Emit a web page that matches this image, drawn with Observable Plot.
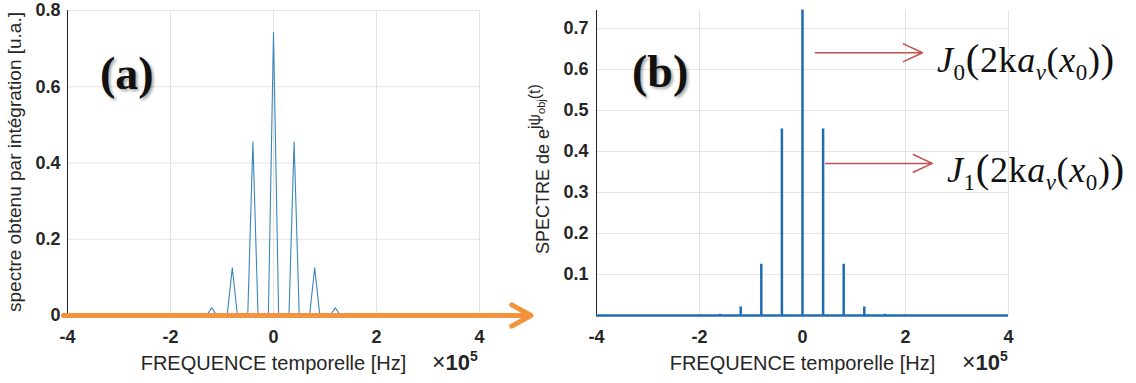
<!DOCTYPE html>
<html>
<head>
<meta charset="utf-8">
<script src="https://cdn.jsdelivr.net/npm/d3@7"></script>
<script src="https://cdn.jsdelivr.net/npm/@observablehq/plot@0.6"></script>
<style>
  html, body { margin: 0; padding: 0; background: #fff; }
  #wrap { position: relative; width: 1136px; height: 383px; overflow: hidden; background: #fff; font-family: "Liberation Sans", Arial, sans-serif; }
  .panel { position: absolute; top: 0; }
  .ov { position: absolute; white-space: nowrap; }
  .tag { font-family: "Liberation Serif", serif; font-weight: bold; font-size: 46px; color: #111; text-shadow: 2px 2px 3px rgba(0,0,0,0.35); line-height: 1; }
  .exp { font-size: 23px; color: #262626; line-height: 1; }
  .exp b { font-size: 22px; }
  .exp b sup { font-size: 14px; vertical-align: 9px; line-height: 0; }
  .math { font-family: "Liberation Serif", serif; font-size: 36px; color: #111; line-height: 1; letter-spacing: 0.6px; }
  .math i { font-style: italic; }
  .math sub { font-size: 23px; vertical-align: -8px; line-height: 0; }
  .math .big { font-size: 41px; }
  .ylab2 { font-size: 18px; color: #262626; transform-origin: 0 0; transform: rotate(-90deg); line-height: 1; }
  .ylab2 sup { font-size: 16px; vertical-align: 9px; line-height: 0; }
  .ylab2 sup sub { font-size: 11px; vertical-align: -5px; }
</style>
</head>
<body>
<div id="wrap">
  <div id="pa" class="panel" style="left:0"></div>
  <div id="pb" class="panel" style="left:500px"></div>
  <div class="ov tag" style="left:100px;top:51px">(a)</div>
  <div class="ov tag" style="left:632px;top:49px">(b)</div>
  <div class="ov exp" style="left:432px;top:351px">×<b>10<sup>5</sup></b></div>
  <div class="ov exp" style="left:962px;top:351px">×<b>10<sup>5</sup></b></div>
  <div class="ov math" style="left:937px;top:38px"><i>J</i><sub>0</sub><span class="big">(</span>2k<i>a</i><sub><i>v</i></sub>(<i>x</i><sub>0</sub>)<span class="big">)</span></div>
  <div class="ov math" style="left:947px;top:148px"><i>J</i><sub>1</sub><span class="big">(</span>2k<i>a</i><sub><i>v</i></sub>(<i>x</i><sub>0</sub>)<span class="big">)</span></div>
  <div class="ov ylab2" style="left:534px;top:254px">SPECTRE de e<sup>jψ<sub>obj</sub>(t)</sup></div>
</div>
<script>
// ---- data (frequency in units of 1e5 Hz) ----
const leftFreq = [-4, -1.7, -1.6, -1.5, -1.3, -1.2, -1.1, -0.9, -0.8, -0.7, -0.5, -0.4, -0.3, -0.1, 0, 0.1, 0.3, 0.4, 0.5, 0.7, 0.8, 0.9, 1.1, 1.2, 1.3, 1.5, 1.6, 1.7, 4];
const leftSpec = [0, 0, 0.002, 0, 0, 0.02, 0, 0, 0.125, 0, 0, 0.455, 0, 0, 0.742, 0, 0, 0.455, 0, 0, 0.125, 0, 0, 0.02, 0, 0, 0.002, 0, 0];
const rightFreq = [-2, -1.6, -1.2, -0.8, -0.4, 0, 0.4, 0.8, 1.2, 1.6, 2];
const rightSpec = [0.001, 0.003, 0.021, 0.125, 0.455, 0.745, 0.455, 0.125, 0.021, 0.003, 0.001];
const xTicks = [-4, -2, 0, 2, 4];
const yTicksLeft = [0, 0.2, 0.4, 0.6, 0.8];
const yTicksRight = [0.1, 0.2, 0.3, 0.4, 0.5, 0.6, 0.7];
const xLabel = "FREQUENCE temporelle [Hz]";
const yLabelLeft = "spectre obtenu par intégration [u.a.]";

const leftData = leftFreq.map((f, i) => ({f, v: leftSpec[i]}));
const rightData = rightFreq.map((f, i) => ({f, v: rightSpec[i]}));

const gridC = "#e3e3e3", axisC = "#262626";
const tickFont = {fontSize: 18, fontWeight: "bold", fill: axisC};

const left = Plot.plot({
  width: 540, height: 383,
  marginLeft: 67, marginRight: 61, marginTop: 10, marginBottom: 68,
  style: {fontFamily: "Liberation Sans, Arial, sans-serif", background: "transparent", overflow: "visible"},
  x: {domain: [-4, 4]},
  y: {domain: [0, 0.8]},
  marks: [
    Plot.gridX(xTicks, {stroke: gridC, strokeOpacity: 1}),
    Plot.gridY(yTicksLeft, {stroke: gridC, strokeOpacity: 1}),
    Plot.ruleX([-4], {stroke: axisC, strokeWidth: 1}),
    Plot.line(leftData, {x: "f", y: "v", stroke: "#3a87b8", strokeWidth: 1.1}),
    Plot.axisX(xTicks, {tickSize: 0, tickPadding: 15, label: null, ...tickFont, tickFormat: d => String(d)}),
    Plot.axisY(yTicksLeft, {tickSize: 0, tickPadding: 7, label: null, ...tickFont, tickFormat: d => d === 0 ? "0" : d3.format(".1f")(d)}),
    Plot.text([xLabel], {frameAnchor: "bottom", lineAnchor: "middle", dy: 48, fontSize: 20, fill: axisC}),
    Plot.text([yLabelLeft], {frameAnchor: "left", textAnchor: "middle", lineAnchor: "middle", rotate: -90, dx: -53, dy: -1, fontSize: 19, fill: axisC}),
    Plot.arrow([{x1: -4.08, x2: 5.0}], {x1: "x1", x2: "x2", y1: 0, y2: 0, stroke: "#f5923e", strokeWidth: 5, headLength: 6.6, headAngle: 58})
  ]
});
document.getElementById("pa").appendChild(left);

const right = Plot.plot({
  width: 636, height: 383,
  marginLeft: 96, marginRight: 128, marginTop: 10, marginBottom: 68,
  style: {fontFamily: "Liberation Sans, Arial, sans-serif", background: "transparent", overflow: "visible"},
  x: {domain: [-4, 4]},
  y: {domain: [0, 0.744]},
  marks: [
    Plot.gridX(xTicks, {stroke: gridC, strokeOpacity: 1}),
    Plot.gridY(yTicksRight, {stroke: gridC, strokeOpacity: 1}),
    Plot.ruleX([-4], {stroke: axisC, strokeWidth: 1}),
    Plot.ruleY([0], {x1: -4, x2: 4, stroke: "#1f6db0", strokeWidth: 2.5}),
    Plot.ruleX(rightData, {x: "f", y1: 0, y2: "v", stroke: "#1f6db0", strokeWidth: 2.5}),
    Plot.axisX(xTicks, {tickSize: 0, tickPadding: 15, label: null, ...tickFont, tickFormat: d => String(d)}),
    Plot.axisY(yTicksRight, {tickSize: 0, tickPadding: 8, label: null, ...tickFont, tickFormat: d3.format(".1f")}),
    Plot.text([xLabel], {frameAnchor: "bottom", lineAnchor: "middle", dy: 48, fontSize: 20, fill: axisC}),
    Plot.arrow([{x1: 0.25, x2: 2.33, y: 0.641}, {x1: 0.45, x2: 2.52, y: 0.371}],
      {x1: "x1", x2: "x2", y1: "y", y2: "y", stroke: "#c0504d", strokeWidth: 1.5, headLength: 21, headAngle: 50})
  ]
});
document.getElementById("pb").appendChild(right);
</script>
</body>
</html>
